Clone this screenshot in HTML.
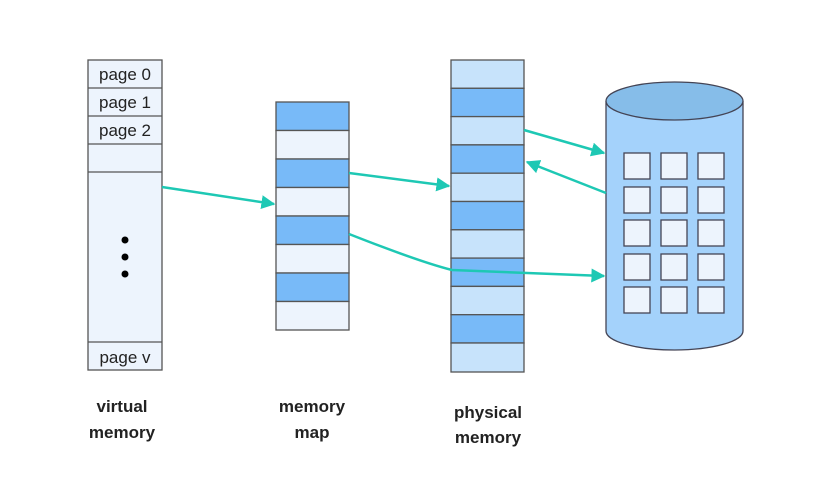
<!DOCTYPE html>
<html><head><style>
body{margin:0;background:#fff;width:820px;height:474px;overflow:hidden}
</style></head><body>
<svg width="820" height="474" xmlns="http://www.w3.org/2000/svg" font-family="Liberation Sans, sans-serif">
<defs><marker id="a" markerWidth="10" markerHeight="10" refX="9" refY="5" orient="auto" markerUnits="userSpaceOnUse"><path d="M0,0 L10,5 L0,10 z" fill="#1ec8b4" transform="scale(1.4) translate(-3,-1.4)"/></marker>
<marker id="b" viewBox="0 0 10 10" markerWidth="14" markerHeight="14" refX="9" refY="5" orient="auto" markerUnits="userSpaceOnUse"><path d="M0,0 L10,5 L0,10 z" fill="#1ec8b4"/></marker></defs>
<g stroke="#555" stroke-width="1.3">
<rect x="88" y="60" width="74" height="310" fill="#edf4fd"/>
<line x1="88" y1="88" x2="162" y2="88"/><line x1="88" y1="116" x2="162" y2="116"/><line x1="88" y1="144" x2="162" y2="144"/><line x1="88" y1="172" x2="162" y2="172"/><line x1="88" y1="342" x2="162" y2="342"/>
</g>
<g font-size="17" fill="#222" text-anchor="middle">
<text x="125" y="80">page 0</text><text x="125" y="108">page 1</text><text x="125" y="136">page 2</text><text x="125" y="363">page v</text>
</g>
<circle cx="125" cy="240" r="3.5" fill="#000"/><circle cx="125" cy="257" r="3.5" fill="#000"/><circle cx="125" cy="274" r="3.5" fill="#000"/>
<g stroke="#555" stroke-width="1.3">
<rect x="276" y="102" width="73" height="28.5" fill="#78baf8"/><rect x="276" y="130.5" width="73" height="28.5" fill="#edf4fd"/>
<rect x="276" y="159" width="73" height="28.5" fill="#78baf8"/><rect x="276" y="187.5" width="73" height="28.5" fill="#edf4fd"/>
<rect x="276" y="216" width="73" height="28.5" fill="#78baf8"/><rect x="276" y="244.5" width="73" height="28.5" fill="#edf4fd"/>
<rect x="276" y="273" width="73" height="28.5" fill="#78baf8"/><rect x="276" y="301.5" width="73" height="28.5" fill="#edf4fd"/>
</g>
<g stroke="#555" stroke-width="1.3">
<rect x="451" y="60" width="73" height="28.3" fill="#c7e3fb"/><rect x="451" y="88.3" width="73" height="28.3" fill="#78baf8"/>
<rect x="451" y="116.6" width="73" height="28.3" fill="#c7e3fb"/><rect x="451" y="144.9" width="73" height="28.3" fill="#78baf8"/>
<rect x="451" y="173.2" width="73" height="28.3" fill="#c7e3fb"/><rect x="451" y="201.5" width="73" height="28.3" fill="#78baf8"/>
<rect x="451" y="229.8" width="73" height="28.3" fill="#c7e3fb"/><rect x="451" y="258.1" width="73" height="28.3" fill="#78baf8"/>
<rect x="451" y="286.4" width="73" height="28.3" fill="#c7e3fb"/><rect x="451" y="314.7" width="73" height="28.3" fill="#78baf8"/>
<rect x="451" y="343" width="73" height="29" fill="#c7e3fb"/>
</g>
<g stroke="#445" stroke-width="1.3">
<path d="M606,101 L606,331 A68.5,19 0 0 0 743,331 L743,101" fill="#a4d2fb"/>
<ellipse cx="674.5" cy="101" rx="68.5" ry="19" fill="#86bde9"/>
<g fill="#edf4fd">
<rect x="624" y="153" width="26" height="26"/><rect x="661" y="153" width="26" height="26"/><rect x="698" y="153" width="26" height="26"/>
<rect x="624" y="187" width="26" height="26"/><rect x="661" y="187" width="26" height="26"/><rect x="698" y="187" width="26" height="26"/>
<rect x="624" y="220" width="26" height="26"/><rect x="661" y="220" width="26" height="26"/><rect x="698" y="220" width="26" height="26"/>
<rect x="624" y="254" width="26" height="26"/><rect x="661" y="254" width="26" height="26"/><rect x="698" y="254" width="26" height="26"/>
<rect x="624" y="287" width="26" height="26"/><rect x="661" y="287" width="26" height="26"/><rect x="698" y="287" width="26" height="26"/>
</g></g>
<g stroke="#1ec8b4" stroke-width="2.5" fill="none" marker-end="url(#b)">
<line x1="162" y1="187" x2="274" y2="204"/>
<line x1="349" y1="173" x2="449" y2="186"/>
<path d="M349,234 Q420,262 452,270 L604,276"/>
<line x1="524" y1="130" x2="604" y2="153"/>
<line x1="606" y1="193" x2="527" y2="162"/>
</g>
<g font-size="17" font-weight="bold" fill="#222" text-anchor="middle">
<text x="122" y="412">virtual</text><text x="122" y="438">memory</text>
<text x="312" y="412">memory</text><text x="312" y="438">map</text>
<text x="488" y="418">physical</text><text x="488" y="443">memory</text>
</g>
</svg>
</body></html>
